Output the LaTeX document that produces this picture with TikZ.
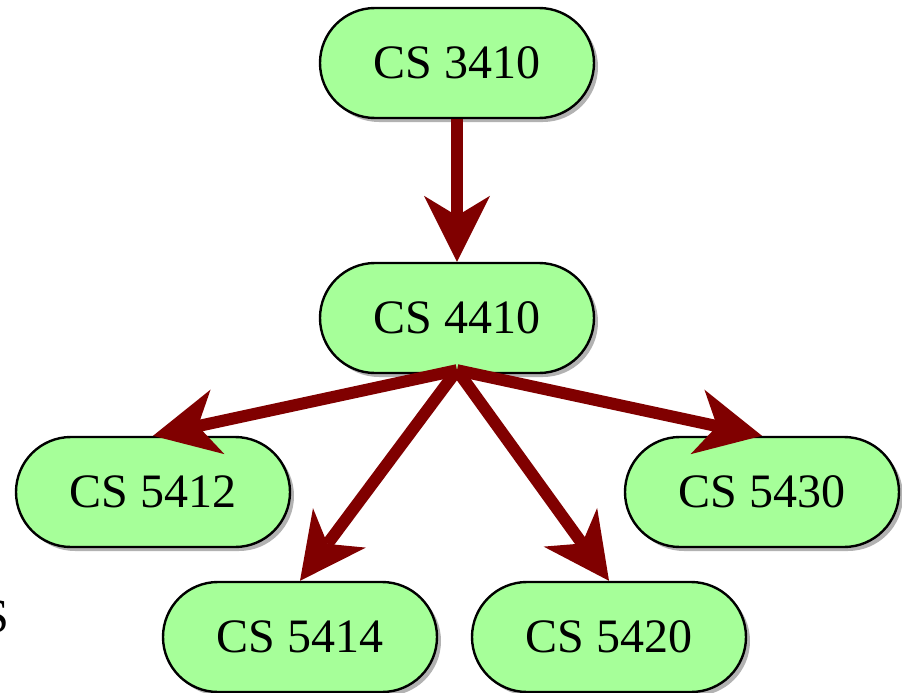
\documentclass[tikz,border=0pt]{standalone}
\usepackage{fontspec}
\setmainfont{Liberation Serif}
\usetikzlibrary{arrows.meta,shadows}
\definecolor{nodegreen}{HTML}{A6FF99}
\definecolor{arrowred}{HTML}{800000}
\begin{document}
\begin{tikzpicture}[x=1pt,y=-1pt,
  course/.style={draw=black, line width=2.4pt, fill=nodegreen,
    minimum width=274pt, minimum height=110pt, rounded corners=55pt,
    inner sep=0pt, font=\fontsize{48}{50}\selectfont,
    drop shadow={shadow xshift=4pt, shadow yshift=-4pt, opacity=0.3, fill=black}},
  prereq/.style={draw=arrowred, line width=12pt,
    -{Stealth[length=66pt 0 0, width=66pt 0 0, inset=20pt 0 0, line width=0pt 0 0, round=false]}}]
\useasboundingbox (0,0) rectangle (902,693);
\node[course] (c3410) at (457,63) {CS 3410};
\node[course] (c4410) at (457,318) {CS 4410};
\node[course] (c5412) at (153,492) {CS 5412};
\node[course] (c5430) at (762,492) {CS 5430};
\node[course] (c5414) at (300,637) {CS 5414};
\node[course] (c5420) at (609,637) {CS 5420};
\node[anchor=base east, inner sep=0pt, font=\fontsize{48}{50}\selectfont] (cut) at (9,632) {S};
\draw[prereq] (c3410.south) -- (c4410.north);
\draw[prereq] ([yshift=4pt]c4410.south) -- (c5412.north);
\draw[prereq] ([yshift=4pt]c4410.south) -- (c5414.north);
\draw[prereq] ([yshift=4pt]c4410.south) -- (c5420.north);
\draw[prereq] ([yshift=4pt]c4410.south) -- (c5430.north);
\end{tikzpicture}
\end{document}
